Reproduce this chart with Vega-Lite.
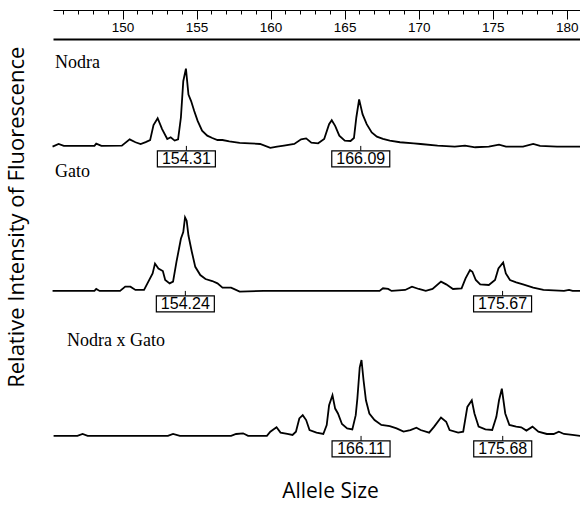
{
  "$schema": "https://vega.github.io/schema/vega-lite/v6.json",
  "padding": {"left": 5, "top": 9, "right": 0, "bottom": 3},
  "autosize": {"type": "pad"},
  "bounds": "flush",
  "spacing": 0,
  "background": "white",
  "config": {"view": {"stroke": null}, "font": "Liberation Sans"},
  "title": {"text": "Relative Intensity of Fluorescence", "orient": "left", "anchor": "middle", "offset": 20, "dx": 38,
    "font": "Open Sans", "fontSize": 22, "fontWeight": "normal", "color": "black"},
  "datasets": {
    "trace": [
      {"sample":"Nodra","size":145.27,"rfu":-0.7},{"sample":"Nodra","size":145.68,"rfu":2.0},{"sample":"Nodra","size":146.03,"rfu":0},{"sample":"Nodra","size":148.1,"rfu":0},{"sample":"Nodra","size":148.22,"rfu":2.4},{"sample":"Nodra","size":148.57,"rfu":0},{"sample":"Nodra","size":149.95,"rfu":0.3},{"sample":"Nodra","size":150.48,"rfu":6.8},{"sample":"Nodra","size":150.87,"rfu":3.8},{"sample":"Nodra","size":151.22,"rfu":2},{"sample":"Nodra","size":151.56,"rfu":4},{"sample":"Nodra","size":151.86,"rfu":6},{"sample":"Nodra","size":152.09,"rfu":21.5},{"sample":"Nodra","size":152.37,"rfu":28.7},{"sample":"Nodra","size":152.67,"rfu":17.4},{"sample":"Nodra","size":153.02,"rfu":7.2},{"sample":"Nodra","size":153.25,"rfu":8.9},{"sample":"Nodra","size":153.52,"rfu":5.5},{"sample":"Nodra","size":153.75,"rfu":6.8},{"sample":"Nodra","size":153.94,"rfu":29.4},{"sample":"Nodra","size":154.1,"rfu":66.9},{"sample":"Nodra","size":154.28,"rfu":79.9},{"sample":"Nodra","size":154.45,"rfu":53.2},{"sample":"Nodra","size":154.63,"rfu":46.4},{"sample":"Nodra","size":154.84,"rfu":36.2},{"sample":"Nodra","size":155.07,"rfu":25.9},{"sample":"Nodra","size":155.37,"rfu":15.7},{"sample":"Nodra","size":155.72,"rfu":10.6},{"sample":"Nodra","size":156.06,"rfu":8.2},{"sample":"Nodra","size":156.41,"rfu":6.1},{"sample":"Nodra","size":156.75,"rfu":6.1},{"sample":"Nodra","size":157.21,"rfu":4.8},{"sample":"Nodra","size":157.91,"rfu":3.1},{"sample":"Nodra","size":158.6,"rfu":2.7},{"sample":"Nodra","size":159.29,"rfu":2},{"sample":"Nodra","size":159.98,"rfu":-2},{"sample":"Nodra","size":160.44,"rfu":-0.7},{"sample":"Nodra","size":160.9,"rfu":0.3},{"sample":"Nodra","size":161.6,"rfu":2},{"sample":"Nodra","size":162.06,"rfu":6.8},{"sample":"Nodra","size":162.4,"rfu":7.8},{"sample":"Nodra","size":162.75,"rfu":3.4},{"sample":"Nodra","size":163.21,"rfu":2.7},{"sample":"Nodra","size":163.62,"rfu":7.2},{"sample":"Nodra","size":163.95,"rfu":22.5},{"sample":"Nodra","size":164.13,"rfu":26.6},{"sample":"Nodra","size":164.36,"rfu":20.8},{"sample":"Nodra","size":164.64,"rfu":10.6},{"sample":"Nodra","size":165.01,"rfu":5.5},{"sample":"Nodra","size":165.4,"rfu":5.1},{"sample":"Nodra","size":165.63,"rfu":8.2},{"sample":"Nodra","size":165.79,"rfu":29.4},{"sample":"Nodra","size":165.98,"rfu":48.1},{"sample":"Nodra","size":166.21,"rfu":32.8},{"sample":"Nodra","size":166.49,"rfu":22.5},{"sample":"Nodra","size":166.83,"rfu":14},{"sample":"Nodra","size":167.18,"rfu":9.6},{"sample":"Nodra","size":167.59,"rfu":7.2},{"sample":"Nodra","size":168.05,"rfu":5.5},{"sample":"Nodra","size":168.74,"rfu":3.8},{"sample":"Nodra","size":169.67,"rfu":2.7},{"sample":"Nodra","size":170.13,"rfu":2},{"sample":"Nodra","size":171.28,"rfu":0.3},{"sample":"Nodra","size":172.44,"rfu":-0.7},{"sample":"Nodra","size":173.13,"rfu":0.3},{"sample":"Nodra","size":173.82,"rfu":-1.4},{"sample":"Nodra","size":174.74,"rfu":-0.7},{"sample":"Nodra","size":175.43,"rfu":1.4},{"sample":"Nodra","size":175.9,"rfu":-0.7},{"sample":"Nodra","size":177.05,"rfu":-0.7},{"sample":"Nodra","size":177.74,"rfu":2},{"sample":"Nodra","size":178.2,"rfu":0},{"sample":"Nodra","size":179.35,"rfu":-0.7},{"sample":"Nodra","size":180.92,"rfu":-0.7},

      {"sample":"Gato","size":145.27,"rfu":0},{"sample":"Gato","size":148.1,"rfu":0},{"sample":"Gato","size":148.22,"rfu":2},{"sample":"Gato","size":148.45,"rfu":0},{"sample":"Gato","size":149.83,"rfu":0},{"sample":"Gato","size":150.18,"rfu":4.4},{"sample":"Gato","size":150.53,"rfu":4.4},{"sample":"Gato","size":150.87,"rfu":1},{"sample":"Gato","size":151.45,"rfu":1},{"sample":"Gato","size":151.68,"rfu":7.8},{"sample":"Gato","size":152.03,"rfu":18.1},{"sample":"Gato","size":152.19,"rfu":28.3},{"sample":"Gato","size":152.42,"rfu":23.2},{"sample":"Gato","size":152.72,"rfu":20.5},{"sample":"Gato","size":152.88,"rfu":11.3},{"sample":"Gato","size":153.18,"rfu":7.8},{"sample":"Gato","size":153.41,"rfu":9.6},{"sample":"Gato","size":153.64,"rfu":30},{"sample":"Gato","size":153.94,"rfu":53.9},{"sample":"Gato","size":154.1,"rfu":60.8},{"sample":"Gato","size":154.22,"rfu":76.1},{"sample":"Gato","size":154.33,"rfu":72.7},{"sample":"Gato","size":154.45,"rfu":57.3},{"sample":"Gato","size":154.68,"rfu":40.3},{"sample":"Gato","size":154.91,"rfu":24.9},{"sample":"Gato","size":155.25,"rfu":16.4},{"sample":"Gato","size":155.6,"rfu":12.3},{"sample":"Gato","size":156.06,"rfu":10.2},{"sample":"Gato","size":156.41,"rfu":7.8},{"sample":"Gato","size":156.75,"rfu":3.4},{"sample":"Gato","size":157.33,"rfu":3.4},{"sample":"Gato","size":157.91,"rfu":-0.7},{"sample":"Gato","size":159.52,"rfu":0},{"sample":"Gato","size":167.36,"rfu":0},{"sample":"Gato","size":167.59,"rfu":2.7},{"sample":"Gato","size":167.94,"rfu":2},{"sample":"Gato","size":168.17,"rfu":0},{"sample":"Gato","size":169.09,"rfu":1},{"sample":"Gato","size":169.55,"rfu":4.4},{"sample":"Gato","size":170.01,"rfu":2},{"sample":"Gato","size":170.48,"rfu":0},{"sample":"Gato","size":170.94,"rfu":2},{"sample":"Gato","size":171.51,"rfu":9.6},{"sample":"Gato","size":171.86,"rfu":6.8},{"sample":"Gato","size":172.32,"rfu":2},{"sample":"Gato","size":172.9,"rfu":2.7},{"sample":"Gato","size":173.17,"rfu":13},{"sample":"Gato","size":173.47,"rfu":21.5},{"sample":"Gato","size":173.63,"rfu":19.8},{"sample":"Gato","size":173.86,"rfu":11.3},{"sample":"Gato","size":174.16,"rfu":6.8},{"sample":"Gato","size":174.74,"rfu":6.1},{"sample":"Gato","size":175.16,"rfu":11.3},{"sample":"Gato","size":175.39,"rfu":23.2},{"sample":"Gato","size":175.71,"rfu":29.4},{"sample":"Gato","size":175.89,"rfu":18.1},{"sample":"Gato","size":176.17,"rfu":11.3},{"sample":"Gato","size":176.59,"rfu":8.9},{"sample":"Gato","size":177.05,"rfu":6.8},{"sample":"Gato","size":177.74,"rfu":3.4},{"sample":"Gato","size":178.43,"rfu":1},{"sample":"Gato","size":179.82,"rfu":0},{"sample":"Gato","size":180.16,"rfu":1},{"sample":"Gato","size":180.4,"rfu":0},{"sample":"Gato","size":180.92,"rfu":0},

      {"sample":"Nodra x Gato","size":145.34,"rfu":0},{"sample":"Nodra x Gato","size":146.95,"rfu":0},{"sample":"Nodra x Gato","size":147.3,"rfu":2},{"sample":"Nodra x Gato","size":147.64,"rfu":0},{"sample":"Nodra x Gato","size":153.06,"rfu":0},{"sample":"Nodra x Gato","size":153.41,"rfu":2},{"sample":"Nodra x Gato","size":153.87,"rfu":0},{"sample":"Nodra x Gato","size":157.33,"rfu":0},{"sample":"Nodra x Gato","size":157.67,"rfu":2},{"sample":"Nodra x Gato","size":158.14,"rfu":2.7},{"sample":"Nodra x Gato","size":158.48,"rfu":0},{"sample":"Nodra x Gato","size":159.75,"rfu":0},{"sample":"Nodra x Gato","size":159.98,"rfu":4.4},{"sample":"Nodra x Gato","size":160.4,"rfu":8.9},{"sample":"Nodra x Gato","size":160.67,"rfu":3.4},{"sample":"Nodra x Gato","size":161.13,"rfu":2},{"sample":"Nodra x Gato","size":161.48,"rfu":1},{"sample":"Nodra x Gato","size":161.71,"rfu":4.4},{"sample":"Nodra x Gato","size":161.94,"rfu":18.1},{"sample":"Nodra x Gato","size":162.17,"rfu":21.5},{"sample":"Nodra x Gato","size":162.4,"rfu":16.4},{"sample":"Nodra x Gato","size":162.63,"rfu":6.1},{"sample":"Nodra x Gato","size":163.1,"rfu":3.4},{"sample":"Nodra x Gato","size":163.56,"rfu":2},{"sample":"Nodra x Gato","size":163.79,"rfu":11.3},{"sample":"Nodra x Gato","size":163.95,"rfu":31.7},{"sample":"Nodra x Gato","size":164.18,"rfu":42},{"sample":"Nodra x Gato","size":164.36,"rfu":28.3},{"sample":"Nodra x Gato","size":164.55,"rfu":23.2},{"sample":"Nodra x Gato","size":164.82,"rfu":12.3},{"sample":"Nodra x Gato","size":165.17,"rfu":7.8},{"sample":"Nodra x Gato","size":165.52,"rfu":6.8},{"sample":"Nodra x Gato","size":165.75,"rfu":21.5},{"sample":"Nodra x Gato","size":165.86,"rfu":38.6},{"sample":"Nodra x Gato","size":166.02,"rfu":71},{"sample":"Nodra x Gato","size":166.14,"rfu":78.5},{"sample":"Nodra x Gato","size":166.28,"rfu":57.3},{"sample":"Nodra x Gato","size":166.44,"rfu":36.9},{"sample":"Nodra x Gato","size":166.67,"rfu":23.2},{"sample":"Nodra x Gato","size":167.02,"rfu":16.4},{"sample":"Nodra x Gato","size":167.48,"rfu":11.3},{"sample":"Nodra x Gato","size":168.05,"rfu":10.2},{"sample":"Nodra x Gato","size":168.51,"rfu":7.8},{"sample":"Nodra x Gato","size":168.98,"rfu":4.4},{"sample":"Nodra x Gato","size":169.44,"rfu":6.1},{"sample":"Nodra x Gato","size":169.85,"rfu":8.5},{"sample":"Nodra x Gato","size":170.13,"rfu":6.1},{"sample":"Nodra x Gato","size":170.71,"rfu":3.4},{"sample":"Nodra x Gato","size":171.05,"rfu":9.6},{"sample":"Nodra x Gato","size":171.51,"rfu":19.1},{"sample":"Nodra x Gato","size":171.86,"rfu":14.7},{"sample":"Nodra x Gato","size":172.09,"rfu":6.1},{"sample":"Nodra x Gato","size":172.67,"rfu":3.4},{"sample":"Nodra x Gato","size":173.01,"rfu":4.4},{"sample":"Nodra x Gato","size":173.29,"rfu":30},{"sample":"Nodra x Gato","size":173.59,"rfu":36.9},{"sample":"Nodra x Gato","size":173.77,"rfu":23.2},{"sample":"Nodra x Gato","size":174.05,"rfu":9.6},{"sample":"Nodra x Gato","size":174.51,"rfu":6.8},{"sample":"Nodra x Gato","size":174.97,"rfu":6.1},{"sample":"Nodra x Gato","size":175.25,"rfu":19.8},{"sample":"Nodra x Gato","size":175.43,"rfu":36.9},{"sample":"Nodra x Gato","size":175.62,"rfu":48.8},{"sample":"Nodra x Gato","size":175.85,"rfu":23.2},{"sample":"Nodra x Gato","size":176.13,"rfu":11.3},{"sample":"Nodra x Gato","size":176.59,"rfu":9.6},{"sample":"Nodra x Gato","size":176.93,"rfu":8.9},{"sample":"Nodra x Gato","size":177.28,"rfu":5.5},{"sample":"Nodra x Gato","size":177.69,"rfu":9.6},{"sample":"Nodra x Gato","size":178.09,"rfu":4.4},{"sample":"Nodra x Gato","size":178.66,"rfu":2},{"sample":"Nodra x Gato","size":179.12,"rfu":2},{"sample":"Nodra x Gato","size":179.47,"rfu":4.4},{"sample":"Nodra x Gato","size":179.82,"rfu":2},{"sample":"Nodra x Gato","size":180.39,"rfu":1},{"sample":"Nodra x Gato","size":180.92,"rfu":0}
    ],
    "calls": [
      {"sample":"Nodra","size":154.31,"label":"154.31"},
      {"sample":"Nodra","size":166.09,"label":"166.09"},
      {"sample":"Gato","size":154.24,"label":"154.24"},
      {"sample":"Gato","size":175.67,"label":"175.67"},
      {"sample":"Nodra x Gato","size":166.11,"label":"166.11"},
      {"sample":"Nodra x Gato","size":175.68,"label":"175.68"}
    ],
    "names": [
      {"sample":"Nodra","size":145.44,"rfu":80.6},
      {"sample":"Gato","size":145.44,"rfu":117.8},
      {"sample":"Nodra x Gato","size":146.25,"rfu":93}
    ]
  },
  "vconcat": [
    {
      "width": 527, "height": 29,
      "data": {"name": "names"},
      "transform": [{"filter": "datum.sample === 'Nodra'"}],
      "mark": {"type": "point", "opacity": 0},
      "encoding": {
        "x": {"field":"size","type":"quantitative","scale":{"domain":[145.3,180.9],"nice":false,"zero":false},
          "axis": {"orient":"top","offset":0,"values":[146,147,148,149,150,151,152,153,154,155,156,157,158,159,160,161,162,163,164,165,166,167,168,169,170,171,172,173,174,175,176,177,178,179,180],
            "tickSize":{"condition":{"test":"datum.value % 5 === 0","value":-9},"value":-4},
            "labelExpr":"datum.value % 5 === 0 ? datum.label : ''",
            "labelPadding":-15,"labelFontSize":13.5,"labelFont":"Liberation Sans","labelColor":"black",
            "domainColor":"black","tickColor":"black","tickWidth":1,"domainWidth":1,"grid":false,"title":null,
            "labelOverlap":false,"labelFlush":false,"labelBound":false}}
      }
    },
    {
      "width": 527, "height": 145,
      "encoding": {
        "x": {"field":"size","type":"quantitative","scale":{"domain":[145.3,180.9],"nice":false,"zero":false},
          "axis": {"orient":"top","offset":0,"domain":true,"domainColor":"black","domainWidth":2.2,"ticks":false,"labels":false,"grid":false,"title":null}}
      },
      "layer": [
        {"data":{"name":"trace"},"transform":[{"filter":"datum.sample === 'Nodra'"}],
         "mark":{"type":"line","color":"black","strokeWidth":1.8},
         "encoding":{"y": {"field":"rfu","type":"quantitative","scale":{"domain":[-39.4,110.6],"nice":false,"zero":false},"axis":null}}},
        {"data":{"name":"calls"},"transform":[{"filter":"datum.sample === 'Nodra'"}],
         "mark":{"type":"rule","color":"black","strokeWidth":1},
         "encoding":{"y":{"datum":0,"type":"quantitative","axis":null},"y2":{"datum":-5.2}}},
        {"data":{"name":"calls"},"transform":[{"filter":"datum.sample === 'Nodra'"}],
         "mark":{"type":"point","shape":"M-1,-0.276L1,-0.276L1,0.276L-1,0.276Z","size":3364,"filled":true,"fill":"white","stroke":"black","strokeWidth":1.2,"opacity":1},
         "encoding":{"y":{"datum":-13.4,"type":"quantitative","axis":null}}},
        {"data":{"name":"calls"},"transform":[{"filter":"datum.sample === 'Nodra'"}],
         "mark":{"type":"text","font":"Liberation Sans","fontSize":16,"color":"black","baseline":"middle","align":"center"},
         "encoding":{"y":{"datum":-13.4,"type":"quantitative","axis":null},"text":{"field":"label"}}},
        {"data":{"name":"names"},"transform":[{"filter":"datum.sample === 'Nodra'"}],
         "mark":{"type":"text","font":"Liberation Serif","fontSize":18,"color":"black","baseline":"alphabetic","align":"left"},
         "encoding":{"y":{"field":"rfu","type":"quantitative","axis":null},"text":{"field":"sample"}}}
      ]
    },
    {
      "width": 527, "height": 145,
      "encoding": {
        "x": {"field":"size","type":"quantitative","scale":{"domain":[145.3,180.9],"nice":false,"zero":false},"axis":null}
      },
      "layer": [
        {"data":{"name":"trace"},"transform":[{"filter":"datum.sample === 'Gato'"}],
         "mark":{"type":"line","color":"black","strokeWidth":1.8},
         "encoding":{"y": {"field":"rfu","type":"quantitative","scale":{"domain":[-39.4,110.6],"nice":false,"zero":false},"axis":null}}},
        {"data":{"name":"calls"},"transform":[{"filter":"datum.sample === 'Gato'"}],
         "mark":{"type":"rule","color":"black","strokeWidth":1},
         "encoding":{"y":{"datum":0,"type":"quantitative","axis":null},"y2":{"datum":-5.2}}},
        {"data":{"name":"calls"},"transform":[{"filter":"datum.sample === 'Gato'"}],
         "mark":{"type":"point","shape":"M-1,-0.276L1,-0.276L1,0.276L-1,0.276Z","size":3364,"filled":true,"fill":"white","stroke":"black","strokeWidth":1.2,"opacity":1},
         "encoding":{"y":{"datum":-13.4,"type":"quantitative","axis":null}}},
        {"data":{"name":"calls"},"transform":[{"filter":"datum.sample === 'Gato'"}],
         "mark":{"type":"text","font":"Liberation Sans","fontSize":16,"color":"black","baseline":"middle","align":"center"},
         "encoding":{"y":{"datum":-13.4,"type":"quantitative","axis":null},"text":{"field":"label"}}},
        {"data":{"name":"names"},"transform":[{"filter":"datum.sample === 'Gato'"}],
         "mark":{"type":"text","font":"Liberation Serif","fontSize":18,"color":"black","baseline":"alphabetic","align":"left"},
         "encoding":{"y":{"field":"rfu","type":"quantitative","axis":null},"text":{"field":"sample"}}}
      ]
    },
    {
      "width": 527, "height": 145,
      "encoding": {
        "x": {"field":"size","type":"quantitative","scale":{"domain":[145.3,180.9],"nice":false,"zero":false},
          "axis":{"title":"Allele Size","domain":false,"ticks":false,"labels":false,"grid":false,
            "titleFont":"Open Sans","titleFontSize":21,"titleFontWeight":"normal","titleColor":"black","titlePadding":6,"titleX":277}}
      },
      "layer": [
        {"data":{"name":"trace"},"transform":[{"filter":"datum.sample === 'Nodra x Gato'"}],
         "mark":{"type":"line","color":"black","strokeWidth":1.8},
         "encoding":{"y": {"field":"rfu","type":"quantitative","scale":{"domain":[-39.4,110.6],"nice":false,"zero":false},"axis":null}}},
        {"data":{"name":"calls"},"transform":[{"filter":"datum.sample === 'Nodra x Gato'"}],
         "mark":{"type":"rule","color":"black","strokeWidth":1},
         "encoding":{"y":{"datum":0,"type":"quantitative","axis":null},"y2":{"datum":-5.2}}},
        {"data":{"name":"calls"},"transform":[{"filter":"datum.sample === 'Nodra x Gato'"}],
         "mark":{"type":"point","shape":"M-1,-0.276L1,-0.276L1,0.276L-1,0.276Z","size":3364,"filled":true,"fill":"white","stroke":"black","strokeWidth":1.2,"opacity":1},
         "encoding":{"y":{"datum":-13.4,"type":"quantitative","axis":null}}},
        {"data":{"name":"calls"},"transform":[{"filter":"datum.sample === 'Nodra x Gato'"}],
         "mark":{"type":"text","font":"Liberation Sans","fontSize":16,"color":"black","baseline":"middle","align":"center"},
         "encoding":{"y":{"datum":-13.4,"type":"quantitative","axis":null},"text":{"field":"label"}}},
        {"data":{"name":"names"},"transform":[{"filter":"datum.sample === 'Nodra x Gato'"}],
         "mark":{"type":"text","font":"Liberation Serif","fontSize":18,"color":"black","baseline":"alphabetic","align":"left"},
         "encoding":{"y":{"field":"rfu","type":"quantitative","axis":null},"text":{"field":"sample"}}}
      ]
    }
  ]
}
